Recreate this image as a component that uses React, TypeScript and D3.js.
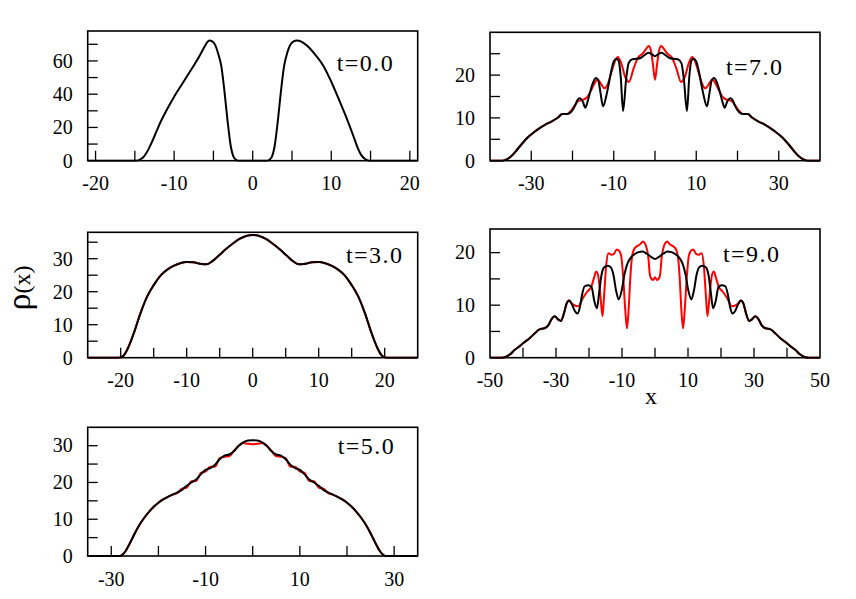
import React from "react";
import * as d3 from "d3";

type Pt = [number, number];

// ---------- data ----------
const t0Black: Pt[] = [
  [-21, 0], [-14.8, 0], [-14.3, 0.8], [-13.8, 2.8], [-13.3, 6.5], [-12.8, 11.5], [-12.3, 17], [-11.8, 22.5],
  [-11, 30], [-10, 38.5], [-9, 46], [-8, 53.5], [-7.2, 59.5], [-6.6, 64.5], [-6.1, 68.8], [-5.8, 71.2],
  [-5.5, 72.3], [-5.2, 71.9], [-4.8, 69.8], [-4.4, 64.5], [-4, 57], [-3.6, 42], [-3.2, 24], [-2.8, 9],
  [-2.4, 2], [-2, 0.2], [-1.8, 0],
  [1.8, 0], [2, 0.2], [2.4, 2], [2.8, 9], [3.2, 24], [3.6, 42], [4, 57], [4.4, 65], [4.8, 69.8],
  [5.2, 71.8], [5.6, 72.3], [6.2, 71.6], [7, 68.8], [8, 63.5], [9, 57], [10, 47.5], [11, 36.5], [12, 25],
  [12.8, 15], [13.3, 8.5], [13.8, 3.5], [14.3, 1], [14.8, 0], [21, 0],
];

const t3Black: Pt[] = [
  [-25, 0], [-20.5, 0], [-20, 0.1], [-19.5, 0.8], [-19, 2.5], [-18.5, 4.8], [-18, 7.5], [-17, 13.5],
  [-16, 18.5], [-15, 22], [-14, 24.8], [-13, 26.6], [-12, 27.8], [-11, 28.6], [-10, 29], [-9, 28.9],
  [-8, 28.5], [-7, 28.3], [-6, 29.4], [-5, 31.2], [-4, 33], [-3, 34.6], [-2, 36], [-1, 36.9], [0, 37.2],
  [1, 36.9], [2, 36], [3, 34.6], [4, 33], [5, 31.2], [6, 29.4], [7, 28.3], [8, 28.5], [9, 28.9], [10, 29],
  [11, 28.6], [12, 27.8], [13, 26.6], [14, 24.8], [15, 22], [16, 18.5], [17, 13.5], [18, 7.5], [18.5, 4.8],
  [19, 2.5], [19.5, 0.8], [20, 0.1], [20.5, 0], [25, 0],
];
const t3Red: Pt[] = t3Black;

const t5Black: Pt[] = [
  [-35, 0], [-28.2, 0], [-27.6, 0.4], [-27, 1.3], [-26, 3.6], [-25, 6.2], [-24, 8.5], [-23, 10.4], [-22, 12],
  [-21, 13.4], [-20, 14.5], [-19, 15.4], [-18, 16.1], [-17, 16.7], [-16, 17.3], [-15, 18], [-14, 19.1],
  [-13, 20], [-12, 20.8], [-11, 22.2], [-10, 23.4], [-9, 23.9], [-8, 24.8], [-7, 26.3], [-6, 27.3],
  [-5, 27.6], [-4, 28.5], [-3, 29.9], [-2, 30.9], [-1, 31.4], [0, 31.5], [1, 31.4], [2, 30.9], [3, 29.9],
  [4, 28.5], [5, 27.6], [6, 27.3], [7, 26.3], [8, 24.8], [9, 23.9], [10, 23.4], [11, 22.2], [12, 20.8],
  [13, 20], [14, 19.1], [15, 18], [16, 17.3], [17, 16.7], [18, 16.1], [19, 15.4], [20, 14.5], [21, 13.4],
  [22, 12], [23, 10.4], [24, 8.5], [25, 6.2], [26, 3.6], [27, 1.3], [27.6, 0.4], [28.2, 0], [35, 0],
];
const t5Red: Pt[] = [
  [-35, 0], [-28.2, 0], [-27.6, 0.4], [-27, 1.3], [-26, 3.6], [-25, 6.2], [-24, 8.5], [-23, 10.4], [-22, 12],
  [-21, 13.4], [-20, 14.5], [-19, 15.4], [-18, 16.1], [-17, 16.7], [-16, 17.1], [-15, 18.3], [-14, 18.6],
  [-13, 20.3], [-12, 20.4], [-11, 22.6], [-10, 23.0], [-9, 24.3], [-8, 24.3], [-7, 26.6], [-6, 27.0],
  [-5, 27.1], [-4, 28.6], [-3, 30.0], [-2, 30.7], [-1, 30.5], [0, 30.4], [1, 30.5], [2, 30.7], [3, 30.0],
  [4, 28.6], [5, 27.1], [6, 27.0], [7, 26.6], [8, 24.3], [9, 24.3], [10, 23.0], [11, 22.6], [12, 20.4],
  [13, 20.3], [14, 18.6], [15, 18.3], [16, 17.1], [17, 16.7], [18, 16.1], [19, 15.4], [20, 14.5], [21, 13.4],
  [22, 12], [23, 10.4], [24, 8.5], [25, 6.2], [26, 3.6], [27, 1.3], [27.6, 0.4], [28.2, 0], [35, 0],
];

const t7Black: Pt[] = [
  [-40, 0], [-37, 0], [-36, 0.3], [-34.8, 1.1], [-33.5, 2.5], [-32.3, 3.9], [-31, 5.3], [-29, 6.9],
  [-26.5, 8.5], [-25, 9.2], [-23.5, 10.1], [-22.5, 10.9], [-21.3, 10.9], [-20.4, 11.3], [-19.4, 12.8],
  [-18.8, 14.2], [-18.3, 14.6], [-17.5, 13.8], [-16.9, 12.4], [-16.2, 14.3], [-15.6, 16.5], [-15, 18.3],
  [-14.3, 19.3], [-13.7, 18.6], [-13.2, 15.8], [-12.6, 12.7], [-11.8, 15.2], [-11.3, 17.5], [-10.6, 21],
  [-10, 23.2], [-9.3, 23.8], [-8.8, 23.3], [-8.3, 19.5], [-7.75, 11.6], [-7.0, 19], [-6.4, 22.8],
  [-5.5, 23.7], [-4.5, 23.8], [-3.5, 24.0], [-2.5, 24.7], [-1.6, 25.2], [-0.8, 24.9], [0, 24.4],
  [0.8, 24.9], [1.6, 25.2], [2.5, 24.7], [3.5, 24.0], [4.5, 23.8], [5.5, 23.7], [6.4, 22.8], [7.0, 19],
  [7.75, 11.6], [8.3, 19.5], [8.8, 23.3], [9.3, 23.8], [10, 23.2], [10.6, 21], [11.3, 17.5], [11.8, 15.2],
  [12.6, 12.7], [13.2, 15.8], [13.7, 18.6], [14.3, 19.3], [15, 18.3], [15.6, 16.5], [16.2, 14.3],
  [16.9, 12.4], [17.5, 13.8], [18.3, 14.6], [18.8, 14.2], [19.4, 12.8], [20.4, 11.3], [21.3, 10.9],
  [22.5, 10.9], [23.5, 10.1], [25, 9.2], [26.5, 8.5], [29, 6.9], [31, 5.3], [32.3, 3.9], [33.5, 2.5],
  [34.8, 1.1], [36, 0.3], [37, 0], [40, 0],
];
const t7Red: Pt[] = [
  [-40, 0], [-37, 0], [-36, 0.3], [-34.8, 1.1], [-33.5, 2.5], [-32.3, 3.9], [-31, 5.3], [-29, 6.9],
  [-26.5, 8.5], [-25, 9.2], [-23.5, 10.1], [-22.5, 10.9], [-21.3, 10.9], [-20.2, 11.9], [-19.4, 13.0],
  [-18.6, 13.9], [-17.6, 14.2], [-16.6, 14.7], [-15.6, 16.2], [-14.8, 17.8], [-13.9, 19.0], [-13.0, 17.8],
  [-12.2, 16.9], [-11.5, 17.8], [-10.7, 20.2], [-9.8, 23], [-9.0, 24.2], [-8.2, 22.8], [-7.2, 19.5],
  [-6.3, 18.4], [-5.2, 21.5], [-4.1, 24.1], [-3, 25.0], [-2.1, 26.2], [-1.5, 26.8], [-1.0, 25.8],
  [-0.5, 22.5], [0, 18.9], [0.5, 22.5], [1.0, 25.8], [1.5, 26.8], [2.1, 26.2], [3, 25.0], [4.1, 24.1],
  [5.2, 21.5], [6.3, 18.4], [7.2, 19.5], [8.2, 22.8], [9.0, 24.2], [9.8, 23], [10.7, 20.2], [11.5, 17.8],
  [12.2, 16.9], [13.0, 17.8], [13.9, 19.0], [14.8, 17.8], [15.6, 16.2], [16.6, 14.7], [17.6, 14.2],
  [18.6, 13.9], [19.4, 13.0], [20.2, 11.9], [21.3, 10.9], [22.5, 10.9], [23.5, 10.1], [25, 9.2],
  [26.5, 8.5], [29, 6.9], [31, 5.3], [32.3, 3.9], [33.5, 2.5], [34.8, 1.1], [36, 0.3], [37, 0], [40, 0],
];

const t9Black: Pt[] = [
  [-50, 0], [-46.5, 0], [-45.5, 0.1], [-44, 0.6], [-42.5, 1.5], [-41, 2.2], [-39.5, 3.0], [-38, 3.7],
  [-36.5, 4.6], [-35, 5.4], [-33.5, 5.6], [-32.3, 6.2], [-31.3, 7.4], [-30.4, 7.9], [-29.4, 7.3],
  [-28.5, 7.0], [-27.6, 8.4], [-26.8, 10.3], [-26, 10.9], [-25.2, 10.2], [-24.3, 8.9], [-23.5, 8.4],
  [-22.8, 9.5], [-22.1, 12.0], [-21.3, 13.6], [-20.2, 13.8], [-19.2, 13.4], [-18.4, 10.8], [-17.6, 9.4],
  [-16.9, 12.5], [-16.2, 15.8], [-15.4, 17.2], [-14.3, 17.5], [-13.4, 17.2], [-12.6, 15.8], [-11.8, 12.8],
  [-11, 11.1], [-10.1, 12.8], [-9.2, 16], [-8.3, 18.0], [-7.4, 19.0], [-6.2, 19.7], [-5, 20.1],
  [-3.8, 20.2], [-2.5, 19.8], [-1.2, 19.2], [0, 18.8], [1.2, 19.2], [2.5, 19.8], [3.8, 20.2], [5, 20.1],
  [6.2, 19.7], [7.4, 19.0], [8.3, 18.0], [9.2, 16], [10.1, 12.8], [11, 11.1], [11.8, 12.8], [12.6, 15.8],
  [13.4, 17.2], [14.3, 17.5], [15.4, 17.2], [16.2, 15.8], [16.9, 12.5], [17.6, 9.4], [18.4, 10.8],
  [19.2, 13.4], [20.2, 13.8], [21.3, 13.6], [22.1, 12.0], [22.8, 9.5], [23.5, 8.4], [24.3, 8.9],
  [25.2, 10.2], [26, 10.9], [26.8, 10.3], [27.6, 8.4], [28.5, 7.0], [29.4, 7.3], [30.4, 7.9], [31.3, 7.4],
  [32.3, 6.2], [33.5, 5.6], [35, 5.4], [36.5, 4.6], [38, 3.7], [39.5, 3.0], [41, 2.2], [42.5, 1.5],
  [44, 0.6], [45.5, 0.1], [46.5, 0], [50, 0],
];
const t9Red: Pt[] = [
  [-50, 0], [-46.5, 0], [-45.5, 0.1], [-44, 0.6], [-42.5, 1.5], [-41, 2.2], [-39.5, 3.0], [-38, 3.7],
  [-36.5, 4.6], [-35, 5.4], [-33.5, 5.6], [-32.3, 6.2], [-31.3, 7.4], [-30.4, 7.9], [-29.4, 7.3],
  [-28.5, 7.0], [-27.6, 8.4], [-26.8, 10.3], [-26, 10.9], [-25.2, 10.3], [-24.5, 10.0], [-23.3, 9.8],
  [-21.8, 11.4], [-20.5, 12.6], [-19.3, 13.5], [-18.4, 15.4], [-17.8, 16.4], [-17.1, 15.2], [-16.5, 11.5],
  [-15.9, 7.9], [-15.4, 12], [-14.8, 17.5], [-14.1, 19.9], [-13.2, 19.6], [-12.4, 19.8], [-11.6, 20.6],
  [-10.8, 20.3], [-10.2, 19.2], [-9.6, 15], [-9.0, 9], [-8.5, 5.6], [-8.0, 9], [-7.5, 15], [-7.0, 19],
  [-6.3, 20.7], [-5.5, 21.2], [-4.5, 21.6], [-3.7, 22.1], [-3.0, 21.7], [-2.5, 20.8], [-2.0, 19],
  [-1.6, 16], [-1.2, 15.1], [-0.6, 14.8], [0, 15.3], [0.6, 14.8], [1.2, 15.1], [1.6, 16], [2.0, 19],
  [2.5, 20.8], [3.0, 21.7], [3.7, 22.1], [4.5, 21.6], [5.5, 21.2], [6.3, 20.7], [7.0, 19], [7.5, 15],
  [8.0, 9], [8.5, 5.6], [9.0, 9], [9.6, 15], [10.2, 19.2], [10.8, 20.3], [11.6, 20.6], [12.4, 19.8],
  [13.2, 19.6], [14.1, 19.9], [14.8, 17.5], [15.4, 12], [15.9, 7.9], [16.5, 11.5], [17.1, 15.2],
  [17.8, 16.4], [18.4, 15.4], [19.3, 13.5], [20.5, 12.6], [21.8, 11.4], [23.3, 9.8], [24.5, 10.0],
  [25.2, 10.3], [26, 10.9], [26.8, 10.3], [27.6, 8.4], [28.5, 7.0], [29.4, 7.3], [30.4, 7.9], [31.3, 7.4],
  [32.3, 6.2], [33.5, 5.6], [35, 5.4], [36.5, 4.6], [38, 3.7], [39.5, 3.0], [41, 2.2], [42.5, 1.5],
  [44, 0.6], [45.5, 0.1], [46.5, 0], [50, 0],
];

// ticks and labels
const p1XTicks = [-20, -15, -10, -5, 0, 5, 10, 15, 20];
const p1XLabels = [-20, -10, 0, 10, 20];
const p1YTicks = [10, 20, 30, 40, 50, 60, 70];
const p1YLabels = [0, 20, 40, 60];

const p2XTicks = [-30, -20, -10, 0, 10, 20, 30];
const p2XLabels = [-30, -10, 10, 30];
const p2YTicks = [5, 10, 15, 20, 25];
const p2YLabels = [0, 10, 20];

const p3XTicks = [-20, -15, -10, -5, 0, 5, 10, 15, 20];
const p3XLabels = [-20, -10, 0, 10, 20];
const p3YTicks = [5, 10, 15, 20, 25, 30, 35];
const p3YLabels = [0, 10, 20, 30];

const p4XTicks = [-40, -30, -20, -10, 0, 10, 20, 30, 40];
const p4XLabels = [-50, -30, -10, 10, 30, 50];
const p4YTicks = [5, 10, 15, 20];
const p4YLabels = [0, 10, 20];

const p5XTicks = [-30, -20, -10, 0, 10, 20, 30];
const p5XLabels = [-30, -10, 10, 30];
const p5YTicks = [5, 10, 15, 20, 25, 30];
const p5YLabels = [0, 10, 20, 30];

const timeLabels = ["t=0.0", "t=7.0", "t=3.0", "t=9.0", "t=5.0"];

// ---------- layout ----------
const FONT = "'Liberation Serif', 'Times New Roman', serif";

interface PanelCfg {
  label: string;
  l: number; r: number; t: number; b: number;
  xDom: [number, number]; yDom: [number, number];
  xTicks: number[]; xLabels: number[]; yTicks: number[]; yLabels: number[];
  black: Pt[]; red: Pt[] | null;
  tx: number; ty: number;
}

const panels: PanelCfg[] = [
  { label: timeLabels[0], l: 87.7, r: 417.7, t: 31, b: 160.7, xDom: [-21, 21], yDom: [0, 78],
    xTicks: p1XTicks, xLabels: p1XLabels, yTicks: p1YTicks, yLabels: p1YLabels, black: t0Black, red: null, tx: 336.7, ty: 70.7 },
  { label: timeLabels[1], l: 490, r: 820, t: 32.3, b: 160.7, xDom: [-40, 40], yDom: [0, 30],
    xTicks: p2XTicks, xLabels: p2XLabels, yTicks: p2YTicks, yLabels: p2YLabels, black: t7Black, red: t7Red, tx: 726, ty: 75.3 },
  { label: timeLabels[2], l: 87.7, r: 417.7, t: 232.3, b: 357.7, xDom: [-25, 25], yDom: [0, 38],
    xTicks: p3XTicks, xLabels: p3XLabels, yTicks: p3YTicks, yLabels: p3YLabels, black: t3Black, red: t3Red, tx: 346, ty: 262.7 },
  { label: timeLabels[3], l: 490, r: 820, t: 229, b: 357.7, xDom: [-50, 50], yDom: [0, 24.5],
    xTicks: p4XTicks, xLabels: p4XLabels, yTicks: p4YTicks, yLabels: p4YLabels, black: t9Black, red: t9Red, tx: 723, ty: 261.7 },
  { label: timeLabels[4], l: 87.7, r: 417.7, t: 427.3, b: 556, xDom: [-35, 35], yDom: [0, 35],
    xTicks: p5XTicks, xLabels: p5XLabels, yTicks: p5YTicks, yLabels: p5YLabels, black: t5Black, red: t5Red, tx: 337.7, ty: 454 },
];

function Panel({ p, idx }: { p: PanelCfg; idx: number }) {
  const x = d3.scaleLinear().domain(p.xDom).range([p.l, p.r]);
  const y = d3.scaleLinear().domain(p.yDom).range([p.b, p.t]);
  const line = d3.line<Pt>().x((d) => x(d[0])).y((d) => y(d[1])).curve(d3.curveMonotoneX);
  const clipId = `clip${idx}`;
  return (
    <g>
      <defs>
        <clipPath id={clipId}>
          <rect x={p.l} y={p.t} width={p.r - p.l} height={p.b - p.t + 1} />
        </clipPath>
      </defs>
      <g clipPath={`url(#${clipId})`}>
        {p.red && <path d={line(p.red) || ""} fill="none" stroke="#ff0000" strokeWidth={2} strokeLinejoin="round" />}
        <path d={line(p.black) || ""} fill="none" stroke="#000" strokeWidth={2} strokeLinejoin="round" />
      </g>
      <rect x={p.l} y={p.t} width={p.r - p.l} height={p.b - p.t} fill="none" stroke="#000" strokeWidth={1.6} />
      {p.xTicks.map((v) => (
        <line key={`xt${v}`} x1={x(v)} x2={x(v)} y1={p.b} y2={p.b - 10} stroke="#000" strokeWidth={1.3} />
      ))}
      {p.yTicks.map((v) => (
        <line key={`yt${v}`} x1={p.l} x2={p.l + 10} y1={y(v)} y2={y(v)} stroke="#000" strokeWidth={1.3} />
      ))}
      {p.xLabels.map((v) => (
        <text key={`xl${v}`} x={x(v)} y={p.b + 29.5} textAnchor="middle" fontSize={20} fontFamily={FONT}>
          {String(v)}
        </text>
      ))}
      {p.yLabels.map((v) => (
        <text key={`yl${v}`} x={p.l - 15} y={y(v) + 6.8} textAnchor="end" fontSize={20} fontFamily={FONT}>
          {String(v)}
        </text>
      ))}
      <text x={p.tx} y={p.ty} fontSize={24} fontFamily={FONT} textLength={56} lengthAdjust="spacing">
        {p.label}
      </text>
    </g>
  );
}

export default function App() {
  return (
    <svg width={856} height={599} style={{ position: "absolute", left: 0, top: 0, background: "#fff" }}>
      <rect x={0} y={0} width={856} height={599} fill="#fff" />
      {panels.map((p, i) => (
        <Panel key={i} p={p} idx={i} />
      ))}
      <text transform="translate(30,288) rotate(-90)" textAnchor="middle" fontFamily={FONT}>
        <tspan fontSize={34}>ρ</tspan>
        <tspan fontSize={24}>(x)</tspan>
      </text>
      <text x={651} y={404} textAnchor="middle" fontSize={24} fontFamily={FONT}>
        x
      </text>
    </svg>
  );
}
